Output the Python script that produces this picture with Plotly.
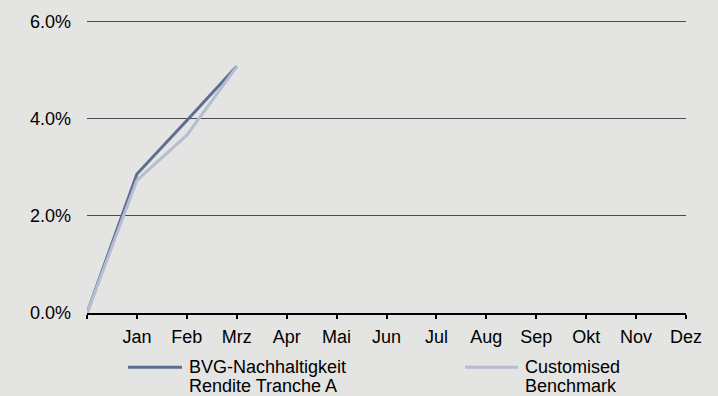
import plotly.graph_objects as go

# Year-to-date performance, in percent
months = ["", "Jan", "Feb", "Mrz", "Apr", "Mai", "Jun", "Jul", "Aug", "Sep", "Okt", "Nov", "Dez"]
fund_name = "BVG-Nachhaltigkeit<br>Rendite Tranche A"
bench_name = "Customised<br>Benchmark"
fund_values = [0.0, 2.86, 3.96, 5.08]
bench_values = [0.0, 2.73, 3.66, 5.07]
y_ticks = [0, 2, 4, 6]
y_tick_labels = ["0.0%", "2.0%", "4.0%", "6.0%"]

FUND_COLOR = "#5e6d92"
BENCH_COLOR = "#b5bdd1"
BG = "#e4e4e3"
FONT = "Liberation Sans, Arial, sans-serif"

W, H = 718, 396
ML, MR, MT, MB = 87, 32, 15, 83
PW, PH = W - ML - MR, H - MT - MB


def px_x(px):
    return (px - ML) / PW


def px_y(py):
    return (H - MB - py) / PH


fig = go.Figure()
fig.add_trace(go.Scatter(
    x=list(range(len(fund_values))), y=fund_values, mode="lines",
    line=dict(color=FUND_COLOR, width=3), name=fund_name, cliponaxis=False,
))
fig.add_trace(go.Scatter(
    x=list(range(len(bench_values))), y=bench_values, mode="lines",
    line=dict(color=BENCH_COLOR, width=3), name=bench_name, cliponaxis=False,
))

# Legend drawn below the axis: a line sample and two-line label per series
shapes = []
annotations = []
for (x0, x1, tx), name, color in [
    ((128, 182, 187), fund_name, FUND_COLOR),
    ((465, 518, 523), bench_name, BENCH_COLOR),
]:
    shapes.append(dict(
        type="line", xref="paper", yref="paper",
        x0=px_x(x0), x1=px_x(x1), y0=px_y(368), y1=px_y(368),
        line=dict(color=color, width=3),
    ))
    for i, part in enumerate(name.split("<br>")):
        annotations.append(dict(
            xref="paper", yref="paper", x=px_x(tx), y=px_y(368 + 19 * i),
            text=part, showarrow=False, xanchor="left", yanchor="middle",
            font=dict(family=FONT, size=18, color="#000000"),
        ))

fig.update_layout(
    width=W, height=H,
    margin=dict(l=ML, r=MR, t=MT, b=MB, pad=0),
    paper_bgcolor=BG, plot_bgcolor=BG,
    showlegend=False,
    font=dict(family=FONT, size=18, color="#000000"),
    shapes=shapes, annotations=annotations,
    xaxis=dict(
        range=[0, len(months) - 1], tickmode="array",
        tickvals=list(range(len(months))), ticktext=months,
        showgrid=False, zeroline=False,
        showline=True, linecolor="#000000", linewidth=2,
        ticks="outside", ticklen=4, tickwidth=1.5, tickcolor="#000000",
        ticklabelstandoff=2,
    ),
    yaxis=dict(
        range=[0, 6.05], tickmode="array", tickvals=y_ticks,
        ticktext=y_tick_labels,
        showgrid=True, gridcolor="#4a4a4a", gridwidth=1,
        zeroline=False, showline=False, ticks="",
        ticklabelstandoff=15,
    ),
)

fig.write_html("out.html")
